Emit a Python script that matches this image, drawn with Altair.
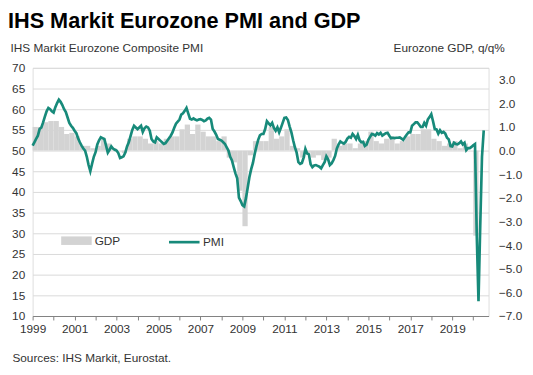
import altair as alt
import pandas as pd

# Eurozone composite PMI, monthly from Jan 1999 to Jul 2020
pmi_1999 = [51.2, 52.0, 52.8, 53.6, 55.2, 55.6, 56.8, 58.2, 59.5, 60.3, 60.0, 59.5]
pmi_2000 = [59.2, 60.5, 61.5, 62.3, 61.8, 61.0, 60.0, 59.3, 58.0, 56.7, 56.0, 55.5]
pmi_2001 = [54.8, 54.2, 53.0, 52.0, 51.2, 50.5, 50.0, 48.5, 46.5, 45.0, 46.8, 48.5]
pmi_2002 = [49.6, 51.5, 52.5, 53.2, 53.0, 52.8, 51.2, 49.5, 50.2, 51.0, 50.5, 50.2]
pmi_2003 = [50.0, 49.4, 48.2, 48.4, 48.6, 49.5, 51.0, 52.0, 53.5, 55.0, 56.0, 55.6]
pmi_2004 = [55.2, 55.6, 56.0, 54.5, 55.4, 55.8, 55.6, 54.8, 52.8, 52.2, 52.0, 53.2]
pmi_2005 = [52.8, 52.4, 52.0, 51.6, 51.8, 52.4, 53.0, 53.6, 54.4, 55.5, 56.5, 57.0]
pmi_2006 = [57.5, 58.7, 59.0, 59.6, 60.3, 59.0, 57.7, 57.5, 57.8, 57.5, 57.3, 57.5]
pmi_2007 = [57.6, 57.4, 57.1, 57.3, 57.7, 57.9, 57.5, 55.2, 54.6, 53.8, 52.8, 52.6]
pmi_2008 = [52.4, 52.0, 51.6, 50.8, 50.0, 48.5, 47.6, 46.0, 44.5, 43.3, 38.6, 37.8]
pmi_2009 = [36.8, 36.5, 38.5, 41.0, 43.6, 45.5, 47.0, 49.2, 51.0, 52.6, 53.7, 54.0]
pmi_2010 = [54.0, 55.2, 57.1, 56.6, 56.1, 56.7, 55.5, 54.8, 55.6, 54.4, 55.5, 56.7]
pmi_2011 = [57.9, 58.0, 57.4, 55.8, 54.4, 52.5, 50.8, 49.5, 47.2, 46.8, 47.0, 48.3]
pmi_2012 = [50.4, 49.3, 49.1, 46.7, 46.0, 46.4, 46.5, 46.3, 46.1, 45.7, 46.5, 47.2]
pmi_2013 = [48.6, 47.9, 46.5, 46.9, 47.7, 48.7, 50.5, 51.5, 52.2, 51.9, 51.7, 52.1]
pmi_2014 = [52.9, 53.3, 53.1, 54.0, 53.5, 52.8, 53.8, 52.5, 52.0, 52.1, 51.1, 51.4]
pmi_2015 = [52.6, 53.3, 54.0, 53.9, 53.6, 54.2, 53.9, 54.3, 53.6, 53.9, 54.2, 54.3]
pmi_2016 = [53.6, 53.0, 53.1, 53.0, 53.1, 53.1, 53.2, 52.9, 52.6, 53.3, 53.9, 54.4]
pmi_2017 = [54.4, 56.0, 56.4, 56.8, 56.8, 56.3, 55.7, 55.7, 56.7, 56.0, 57.5, 58.1]
pmi_2018 = [58.8, 57.1, 55.2, 55.1, 54.1, 54.9, 54.3, 54.5, 54.1, 53.1, 52.7, 51.1]
pmi_2019 = [51.0, 51.9, 51.6, 51.5, 51.8, 52.2, 51.5, 51.9, 50.1, 50.6, 50.6, 50.9]
pmi_2020 = [51.3, 51.6, 29.7, 13.6, 31.9, 48.5, 54.9]

# Eurozone GDP q/q %, quarterly from Q1 1999 to Q1 2020
gdp = [
    1.0, 1.0, 1.2, 1.25,
    1.25, 1.0, 0.7, 0.75,
    0.6, 0.2, 0.2, 0.1,
    0.2, 0.5, 0.3, 0.1,
    0.0, -0.1, 0.5, 0.6,
    0.6, 0.5, 0.3, 0.4,
    0.3, 0.5, 0.6, 0.6,
    0.9, 1.1, 0.7, 1.1,
    0.8, 0.6, 0.6, 0.4,
    0.6, -0.3, -0.5, -1.7,
    -3.2, -0.2, 0.4, 0.4,
    0.4, 1.0, 0.5, 0.6,
    0.9, 0.2, 0.1, -0.3,
    -0.1, -0.3, -0.2, -0.4,
    -0.3, 0.5, 0.2, 0.3,
    0.3, 0.1, 0.3, 0.4,
    0.8, 0.4, 0.3, 0.5,
    0.6, 0.3, 0.4, 0.6,
    0.7, 0.7, 0.9, 0.9,
    0.5, 0.4, 0.2, 0.3,
    0.4, 0.1, 0.3, 0.0,
    -3.6,
]

year_ticks = list(range(1999, 2021))
pmi_ticks = list(range(10, 75, 5))
gdp_ticks = list(range(-7, 4))

pmi = (pmi_1999 + pmi_2000 + pmi_2001 + pmi_2002 + pmi_2003 + pmi_2004 + pmi_2005
       + pmi_2006 + pmi_2007 + pmi_2008 + pmi_2009 + pmi_2010 + pmi_2011 + pmi_2012
       + pmi_2013 + pmi_2014 + pmi_2015 + pmi_2016 + pmi_2017 + pmi_2018 + pmi_2019
       + pmi_2020)

pmi_df = pd.DataFrame({
    "t": [1999 + i / 12 for i in range(len(pmi))],
    "pmi": pmi,
    "series": "PMI",
})
gdp_df = pd.DataFrame({
    "t": [1999 + i / 4 for i in range(len(gdp))],
    "t_end": [1999 + (i + 1) / 4 for i in range(len(gdp))],
    "gdp": gdp,
    "zero": 0.0,
    "series": "GDP",
})

FONT = "Liberation Sans"
TXT = "#333333"
TEAL = "#178a7a"
GREY = "#d3d3d3"

x_scale = alt.Scale(domain=[1999, 2020.73], nice=False, zero=False)
x_axis = alt.Axis(
    values=year_ticks,
    labelExpr="datum.value % 2 == 1 ? datum.value : ''",
    format="d",
    labelFlush=False,
    labelOverlap=False,
    grid=False,
    domainColor="#808080",
    tickColor="#808080",
    tickSize=4,
    labelFontSize=12,
    labelFont=FONT,
    labelColor=TXT,
    labelPadding=4,
    title="Sources: IHS Markit, Eurostat.",
    titleFont=FONT,
    titleFontSize=12,
    titleFontWeight="normal",
    titleColor=TXT,
    titleAngle=0,
    titleAlign="left",
    titleBaseline="middle",
    titleX=-21,
    titleY=42,
)

bars = alt.Chart(gdp_df).mark_rect().encode(
    x=alt.X("t:Q", scale=x_scale, axis=x_axis),
    x2="t_end",
    y=alt.Y(
        "gdp:Q",
        scale=alt.Scale(domain=[-7, 3.5], nice=False, zero=False),
        axis=alt.Axis(
            orient="right",
            values=gdp_ticks,
            format=".1f",
            grid=False,
            ticks=False,
            domain=False,
            labelPadding=10,
            labelFontSize=12,
            labelFont=FONT,
            labelColor=TXT,
            title="Eurozone GDP, q/q%",
            titleFont=FONT,
            titleFontSize=12,
            titleFontWeight="normal",
            titleColor=TXT,
            titleAngle=0,
            titleAlign="right",
            titleBaseline="middle",
            titleX=16,
            titleY=-21,
        ),
    ),
    y2="zero",
    fill=alt.Fill(
        "series:N",
        scale=alt.Scale(domain=["GDP"], range=[GREY]),
        legend=alt.Legend(
            orient="none", legendX=29, legendY=160, title=None,
            symbolType="M-1,-0.28H1V0.28H-1Z", symbolSize=961,
            symbolStrokeWidth=0, labelFontSize=12, labelFont=FONT,
            labelColor=TXT, labelOffset=3,
        ),
    ),
)

line = alt.Chart(pmi_df).mark_line(strokeWidth=2.7).encode(
    x=alt.X("t:Q", scale=x_scale, axis=x_axis),
    y=alt.Y(
        "pmi:Q",
        scale=alt.Scale(domain=[10, 70], nice=False, zero=False),
        axis=alt.Axis(
            orient="left",
            values=pmi_ticks,
            grid=True,
            gridColor="#d9d9d9",
            ticks=False,
            domain=False,
            labelPadding=8,
            labelFontSize=12,
            labelFont=FONT,
            labelColor=TXT,
            title="IHS Markit Eurozone Composite PMI",
            titleFont=FONT,
            titleFontSize=12,
            titleFontWeight="normal",
            titleColor=TXT,
            titleAngle=0,
            titleAlign="left",
            titleBaseline="middle",
            titleX=-23,
            titleY=-21,
        ),
    ),
    stroke=alt.Stroke(
        "series:N",
        scale=alt.Scale(domain=["PMI"], range=[TEAL]),
        legend=alt.Legend(
            orient="none", legendX=137, legendY=160, title=None,
            symbolType="stroke", symbolSize=961, symbolStrokeWidth=2.7,
            labelFontSize=12, labelFont=FONT, labelColor=TXT, labelOffset=2,
        ),
    ),
)

chart = (
    alt.layer(bars, line)
    .resolve_scale(y="independent", fill="independent", stroke="independent")
    .properties(
        width=463,
        height=252,
        autosize=alt.AutoSizeParams(type="none"),
        padding={"left": 25, "top": 58, "right": 37, "bottom": 49},
        title=alt.TitleParams(
            "IHS Markit Eurozone PMI and GDP",
            anchor="start",
            frame="group",
            font=FONT,
            fontSize=22,
            fontWeight="bold",
            color="#000000",
            dx=-25,
            offset=8,
        ),
    )
    .configure_view(stroke=None)
    .configure(background="white")
)

chart.save("out.html", embed_options={"renderer": "svg", "actions": False})
